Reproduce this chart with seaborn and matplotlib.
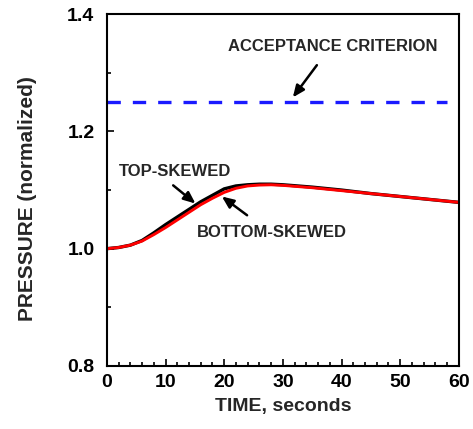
import numpy as np
import pandas as pd
import matplotlib
matplotlib.use("Agg")
import matplotlib.pyplot as plt
import seaborn as sns
from matplotlib.ticker import MultipleLocator

#Values
time_s = [0, 2, 4, 6, 8, 10, 12, 14, 16, 18, 20, 22, 24, 26, 28, 30, 35, 40, 45, 50, 55, 60]
top_skewed = [1.000, 1.002, 1.006, 1.014, 1.027, 1.041, 1.054, 1.067, 1.080, 1.091, 1.102, 1.107,
              1.109, 1.110, 1.110, 1.109, 1.105, 1.100, 1.094, 1.089, 1.084, 1.079]
bottom_skewed = [1.000, 1.002, 1.006, 1.013, 1.024, 1.036, 1.049, 1.062, 1.075, 1.086, 1.096, 1.103,
                 1.107, 1.1085, 1.109, 1.108, 1.104, 1.099, 1.094, 1.089, 1.084, 1.079]
criterion_time = [0, 58]
criterion_value = [1.25, 1.25]

df = pd.DataFrame({"time": time_s, "top": top_skewed, "bottom": bottom_skewed})
crit = pd.DataFrame({"time": criterion_time, "value": criterion_value})

#Style
sns.set_style("ticks")
plt.rcParams["font.family"] = ["Liberation Sans", "DejaVu Sans"]
plt.rcParams["font.weight"] = "bold"

fig = plt.figure(figsize=(4.73, 4.29), dpi=100)
ax = fig.add_axes([0.226, 0.147, 0.744, 0.820])

#Curves
sns.lineplot(data=crit, x="time", y="value", ax=ax, color="#1a1aff", lw=2.4,
             dashes=False, linestyle=(0, (4, 3.6)))
sns.lineplot(data=df, x="time", y="top", ax=ax, color="black", lw=2.4)
sns.lineplot(data=df, x="time", y="bottom", ax=ax, color="#ff0000", lw=2.1)

#Axes
ax.set_xlim(0, 60)
ax.set_ylim(0.8, 1.4)
ax.xaxis.set_major_locator(MultipleLocator(10))
ax.xaxis.set_minor_locator(MultipleLocator(2))
ax.yaxis.set_major_locator(MultipleLocator(0.2))
ax.yaxis.set_minor_locator(MultipleLocator(0.1))
ax.tick_params(which="both", direction="in", top=False, right=False, width=1.2, colors="black")
ax.tick_params(which="major", length=5, labelsize=14)
ax.tick_params(which="minor", length=3)
ax.tick_params(axis="y", which="major", pad=9)
ax.tick_params(axis="x", which="major", pad=6)
ax.yaxis.set_major_formatter(matplotlib.ticker.FormatStrFormatter("%.1f"))
for lab in ax.get_xticklabels() + ax.get_yticklabels():
    lab.set_fontweight("bold")
for s in ax.spines.values():
    s.set_linewidth(1.5)
    s.set_color("black")

ax.set_xlabel("TIME, seconds", fontsize=14, fontweight="bold", labelpad=5)
ax.set_ylabel("PRESSURE (normalized)", fontsize=15, fontweight="bold")
ax.yaxis.set_label_coords(-0.20, 0.477)

#Annotations
arrow = dict(arrowstyle="-|>,head_length=0.7,head_width=0.3", color="black", lw=1.8,
             shrinkA=0, shrinkB=0)
ax.text(38.5, 1.344, "ACCEPTANCE CRITERION", fontsize=12, fontweight="bold",
        ha="center", va="center")
ax.annotate("", xy=(31.7, 1.258), xytext=(35.8, 1.313), arrowprops=arrow)
ax.text(11.6, 1.131, "TOP-SKEWED", fontsize=12, fontweight="bold", ha="center", va="center")
ax.annotate("", xy=(15.1, 1.077), xytext=(11.3, 1.108), arrowprops=arrow)
ax.text(28.1, 1.028, "BOTTOM-SKEWED", fontsize=12, fontweight="bold", ha="center", va="center")
ax.annotate("", xy=(19.6, 1.089), xytext=(23.9, 1.057), arrowprops=arrow)

fig.savefig("out.png", dpi=100)
